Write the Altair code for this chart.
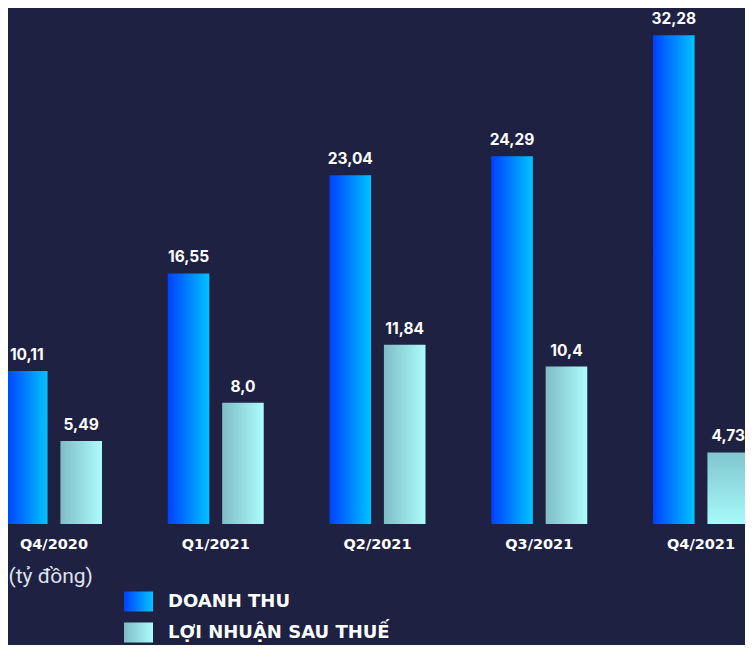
import altair as alt
import pandas as pd

quarters = ["Q4/2020", "Q1/2021", "Q2/2021", "Q3/2021", "Q4/2021"]
series = ["DOANH THU", "LỢI NHUẬN SAU THUẾ"]
doanh_thu = [10.11, 16.55, 23.04, 24.29, 32.28]
loi_nhuan = [5.49, 8.0, 11.84, 10.4, 4.73]
doanh_thu_labels = ["10,11", "16,55", "23,04", "24,29", "32,28"]
loi_nhuan_labels = ["5,49", "8,0", "11,84", "10,4", "4,73"]
unit_label = "(tỷ đồng)"

rows = []
for q, v, l in zip(quarters, doanh_thu, doanh_thu_labels):
    rows.append({"quarter": q, "series": series[0], "value": v, "label": l})
for q, v, l in zip(quarters, loi_nhuan, loi_nhuan_labels):
    rows.append({"quarter": q, "series": series[1], "value": v, "label": l})
df = pd.DataFrame(rows)

BG = "#1e2142"
BLUE = ["#0040ff", "#00c4ff"]
CYAN = ["#7fbcc6", "#acfcfc"]

def hgrad(c):
    return alt.Gradient(gradient="linear",
                        stops=[alt.GradientStop(color=c[0], offset=0),
                               alt.GradientStop(color=c[1], offset=1)],
                        x1=0, x2=1, y1=0, y2=0)

cyan_grad_v = alt.Gradient(gradient="linear",
                           stops=[alt.GradientStop(color="#80c6ce", offset=0),
                                  alt.GradientStop(color="#a6fafa", offset=1)],
                           x1=0, x2=0, y1=0, y2=1)

x_enc = alt.X("quarter:N", sort=quarters,
              scale=alt.Scale(range=[-2, 741], paddingInner=0.4067, paddingOuter=0),
              axis=alt.Axis(title=unit_label, domain=False, ticks=False, tickSize=0,
                            labelAngle=0, labelPadding=13, labelColor="white",
                            labelFont="DejaVu Sans", labelFontWeight="bold", labelFontSize=14.5,
                            titleFont="Roboto", titleFontWeight="normal", titleFontSize=21,
                            titleColor="#dfe2ec", titleX=0, titleY=52, titleAlign="left",
                            titleBaseline="middle", titleAnchor="start", grid=False))
xo_enc = alt.XOffset("series:N", sort=series,
                     scale=alt.Scale(paddingInner=0.236, paddingOuter=0))
y_enc = alt.Y("value:Q", scale=alt.Scale(domain=[0, 34.08], nice=False, zero=True), axis=None)

base = alt.Chart(df).encode(x=x_enc, xOffset=xo_enc, y=y_enc)

blue_bars = base.transform_filter(alt.datum.series == series[0]).mark_bar(
    fill=hgrad(BLUE), clip=True)
cyan_bars = base.transform_filter(
    (alt.datum.series == series[1]) & (alt.datum.quarter != quarters[-1])
).mark_bar(fill=hgrad(CYAN), clip=True)
cyan_last = base.transform_filter(
    (alt.datum.series == series[1]) & (alt.datum.quarter == quarters[-1])
).mark_bar(fill=cyan_grad_v, clip=True)

texts = base.mark_text(color="white", font="Inter", fontWeight="bold", fontSize=15.5,
                       baseline="alphabetic", dy=-11).encode(text="label:N")

def gexpr(c):
    return ("{gradient: 'linear', x1: 0, y1: 0, x2: 1, y2: 0, stops: [{offset: 0, color: '%s'}, "
            "{offset: 1, color: '%s'}]}" % (c[0], c[1]))

sym_fill = "datum.value === '%s' ? %s : %s" % (series[0], gexpr(BLUE), gexpr(CYAN))
rect_path = "M-1,-0.69H1V0.69H-1Z"

legend_layer = base.mark_point(opacity=0, filled=True, fill=alt.ExprRef(expr=sym_fill),
                               strokeWidth=0).encode(
    shape=alt.Shape("series:N", sort=series,
                    scale=alt.Scale(domain=series, range=[rect_path, rect_path]),
                    legend=alt.Legend(orient="none", legendX=116, legendY=579, title=None,
                                      padding=0, symbolSize=841, symbolOpacity=1,
                                      symbolStrokeWidth=0,
                                      labelColor="white", labelFont="DejaVu Sans",
                                      labelFontWeight="bold", labelFontSize=18,
                                      labelOffset=15, rowPadding=6, labelLimit=400))
)

chart = alt.layer(blue_bars, cyan_bars, cyan_last, texts, legend_layer).properties(
    width=737, height=516,
    background=BG,
    padding={"left": 0, "top": 0, "right": 0, "bottom": 121},
    autosize=alt.AutoSizeParams(type="none"),
).configure_view(stroke=None)

chart.save("out.html", embed_options={"renderer": "svg", "actions": False})
